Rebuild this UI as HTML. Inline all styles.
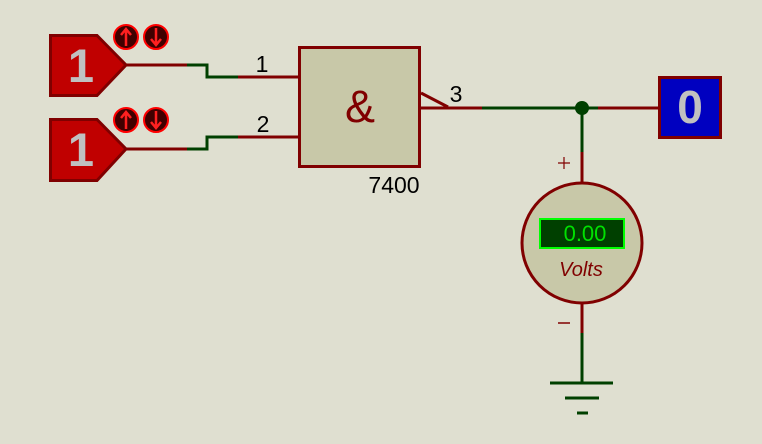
<!DOCTYPE html>
<html><head><meta charset="utf-8"><style>
html,body{margin:0;padding:0;background:#dfdfd0;}
svg{display:block;}
</style></head><body>
<svg width="762" height="444" viewBox="0 0 762 444" xmlns="http://www.w3.org/2000/svg">
<rect width="762" height="444" fill="#dfdfd0"/>
<!-- Source 1 -->
<polygon points="50.5,35.5 97,35.5 126,65 97,95.5 50.5,95.5" fill="#c00000" stroke="#800000" stroke-width="3" stroke-linejoin="miter"/>
<text x="81" y="82" font-family="Liberation Sans, sans-serif" font-weight="bold" font-size="47" fill="#c0c0c0" text-anchor="middle">1</text>
<!-- Source 2 -->
<polygon points="50.5,119.5 97,119.5 126,149 97,180.5 50.5,180.5" fill="#c00000" stroke="#800000" stroke-width="3"/>
<text x="81" y="166" font-family="Liberation Sans, sans-serif" font-weight="bold" font-size="47" fill="#c0c0c0" text-anchor="middle">1</text>
<!-- up/down buttons -->
<g stroke="#ff0000" stroke-width="2" fill="#400000">
<circle cx="126" cy="37" r="12"/><circle cx="156" cy="37" r="12"/>
<circle cx="126" cy="120" r="12"/><circle cx="156" cy="120" r="12"/>
</g>
<g stroke="#ff2020" stroke-width="2.5" fill="none">
<path d="M126,46 V30 M121,35 L126,29 L131,35"/>
<path d="M156,28 V44 M151,39 L156,45 L161,39"/>
<path d="M126,129 V113 M121,118 L126,112 L131,118"/>
<path d="M156,111 V127 M151,122 L156,128 L161,122"/>
</g>
<!-- wires input 1 -->
<g fill="none" stroke-width="3">
<path d="M126,65 H187" stroke="#800000"/>
<path d="M187,65 H207 V77 H238" stroke="#004000"/>
<path d="M238,77 H298" stroke="#800000"/>
<path d="M126,149 H187" stroke="#800000"/>
<path d="M187,149 H207 V137 H238" stroke="#004000"/>
<path d="M238,137 H298" stroke="#800000"/>
</g>
<text x="262" y="72" font-family="Liberation Sans, sans-serif" font-size="23" fill="#000" text-anchor="middle">1</text>
<text x="263" y="132" font-family="Liberation Sans, sans-serif" font-size="23" fill="#000" text-anchor="middle">2</text>
<!-- Gate -->
<rect x="299.5" y="47.5" width="120" height="119" fill="#c8c8a8" stroke="#800000" stroke-width="3"/>
<text x="360" y="122" font-family="Liberation Sans, sans-serif" font-size="45" fill="#800000" text-anchor="middle">&amp;</text>
<text x="394" y="193" font-family="Liberation Sans, sans-serif" font-size="23" fill="#000" text-anchor="middle">7400</text>
<!-- output -->
<g fill="none" stroke-width="3">
<path d="M421,93 L448,107" stroke="#800000"/>
<path d="M421,108 H482" stroke="#800000"/>
<path d="M482,108 H598" stroke="#004000"/>
<path d="M598,108 H658" stroke="#800000"/>
<path d="M582,108 V152" stroke="#004000"/>
<path d="M582,152 V183" stroke="#800000"/>
<path d="M582,303 V333" stroke="#800000"/>
<path d="M582,333 V383" stroke="#004000"/>
</g>
<text x="456" y="102" font-family="Liberation Sans, sans-serif" font-size="23" fill="#000" text-anchor="middle">3</text>
<circle cx="582" cy="108" r="7" fill="#004000"/>
<!-- output box -->
<rect x="659.5" y="77.5" width="61" height="60" fill="#0000c0" stroke="#800000" stroke-width="3"/>
<text x="690" y="123" font-family="Liberation Sans, sans-serif" font-weight="bold" font-size="46" fill="#c0c0c0" text-anchor="middle">0</text>
<!-- voltmeter -->
<circle cx="582" cy="243" r="60" fill="#c8c8a8" stroke="#800000" stroke-width="3"/>
<rect x="540" y="219" width="84" height="29" fill="#004000" stroke="#00ff00" stroke-width="2"/>
<text x="585" y="241" font-family="Liberation Sans, sans-serif" font-size="22" fill="#00e000" text-anchor="middle">0.00</text>
<text x="581" y="276" font-family="Liberation Sans, sans-serif" font-style="italic" font-size="20" fill="#800000" text-anchor="middle">Volts</text>
<path d="M564,157 V169 M558,163 H570" stroke="#800000" stroke-width="1.2"/>
<path d="M558,323 H570" stroke="#800000" stroke-width="1.5"/>
<!-- ground -->
<g stroke="#004000" stroke-width="3">
<path d="M550,383 H613"/>
<path d="M565,398 H599"/>
<path d="M577,413 H588"/>
</g>
</svg>
</body></html>
